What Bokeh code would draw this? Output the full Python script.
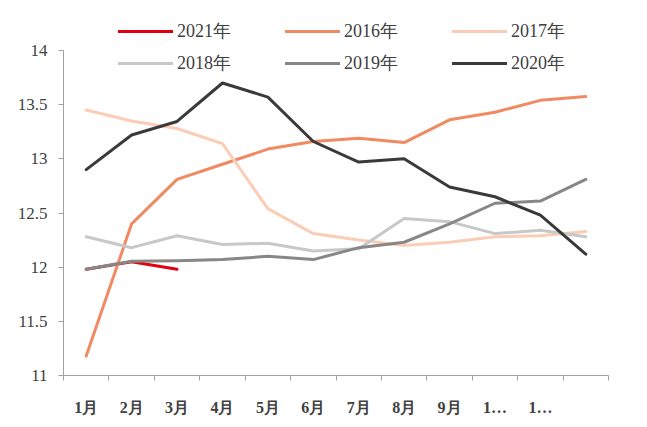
from bokeh.plotting import figure
from bokeh.models import Legend, LegendItem, FixedTicker, Range1d
from bokeh.embed import file_html
from bokeh.resources import INLINE

months = ["1月", "2月", "3月", "4月", "5月", "6月", "7月", "8月", "9月", "10月", "11月", "12月"]
tick_labels = ["1月", "2月", "3月", "4月", "5月", "6月", "7月", "8月", "9月", "1…", "1…", ""]

s2021 = [11.98, 12.05, 11.98]
s2016 = [11.18, 12.40, 12.81, 12.95, 13.09, 13.16, 13.19, 13.15, 13.36, 13.43, 13.54, 13.575]
s2017 = [13.45, 13.35, 13.28, 13.14, 12.54, 12.31, 12.25, 12.20, 12.23, 12.28, 12.29, 12.33]
s2018 = [12.28, 12.18, 12.29, 12.21, 12.22, 12.15, 12.17, 12.45, 12.42, 12.31, 12.34, 12.28]
s2019 = [11.98, 12.055, 12.06, 12.07, 12.10, 12.07, 12.18, 12.23, 12.40, 12.59, 12.61, 12.81]
s2020 = [12.90, 13.22, 13.345, 13.70, 13.57, 13.16, 12.97, 13.00, 12.74, 12.65, 12.48, 12.12]

series = [
    ("2021年", s2021, "#E1000F"),
    ("2016年", s2016, "#F08A62"),
    ("2017年", s2017, "#FBCDB6"),
    ("2018年", s2018, "#C8C8C8"),
    ("2019年", s2019, "#878787"),
    ("2020年", s2020, "#3A3A3A"),
]

y_top = 14 + 35 / (325 / 3)

p = figure(width=640, height=420, output_backend="svg", toolbar_location=None,
           x_range=Range1d(0, 12), y_range=Range1d(11, y_top),
           min_border_left=63, min_border_right=32, min_border_top=15, min_border_bottom=45)
p.outline_line_color = None
p.xgrid.visible = False
p.ygrid.visible = False
p.background_fill_color = "white"
p.border_fill_color = "white"

centers = [i + 0.5 for i in range(len(months))]
items = []
for name, vals, col in series:
    xs = centers[:len(vals)]
    r = p.line(xs, vals, line_color=col, line_width=3, line_cap="round", line_join="round")
    items.append(LegendItem(label=name, renderers=[r]))

axis_col = "#a0a0a0"
text_col = "#404040"

xa = p.xaxis[0]
xa.ticker = FixedTicker(ticks=centers, minor_ticks=list(range(0, 13)))
xa.major_label_overrides = {c: t for c, t in zip(centers, tick_labels)}
xa.major_tick_line_color = None
xa.major_tick_out = 0
xa.major_tick_in = 0
xa.minor_tick_line_color = axis_col
xa.minor_tick_out = 5
xa.minor_tick_in = 0
xa.axis_line_color = axis_col
xa.major_label_standoff = 18
xa.major_label_text_font = "Liberation Serif"
xa.major_label_text_font_style = "bold"
xa.major_label_text_font_size = "16px"
xa.major_label_text_color = text_col

ya = p.yaxis[0]
ya.ticker = FixedTicker(ticks=[11, 11.5, 12, 12.5, 13, 13.5, 14])
ya.bounds = (11, 14)
ya.major_label_overrides = {11: "11", 11.5: "11.5", 12: "12", 12.5: "12.5", 13: "13", 13.5: "13.5", 14: "14"}
ya.minor_tick_line_color = None
ya.major_tick_line_color = axis_col
ya.major_tick_out = 5
ya.major_tick_in = 0
ya.axis_line_color = axis_col
ya.major_label_standoff = 11
ya.major_label_text_font = "Liberation Serif"
ya.major_label_text_font_size = "17px"
ya.major_label_text_color = text_col

legend = Legend(items=items, orientation="horizontal", ncols=3,
                location=(55, 296), padding=0, margin=0, spacing=0,
                glyph_width=55, glyph_height=32, label_width=108, label_height=32,
                label_standoff=4, border_line_color=None, background_fill_alpha=0,
                label_text_font="Liberation Serif", label_text_font_size="18px",
                label_text_color=text_col)
p.add_layout(legend, "center")

open("out.html", "w").write(file_html(p, INLINE))
